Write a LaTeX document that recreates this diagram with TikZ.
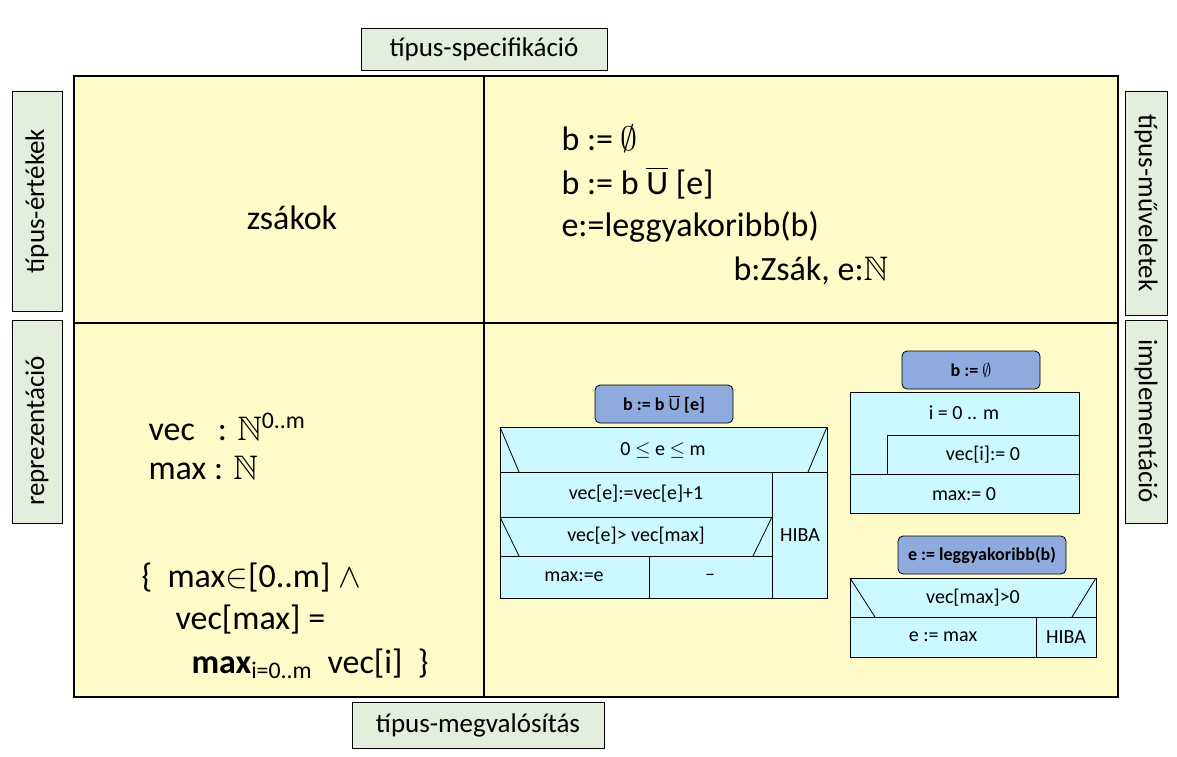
\RequirePackage{fix-cm}
\documentclass[tikz,border=0pt]{standalone}
\usepackage{anyfontsize}
\usepackage{amssymb}
\usepackage{fontspec}
\setmainfont{Carlito}
\definecolor{paneyellow}{HTML}{FFFBC9}
\definecolor{tagGreen}{HTML}{E3EEDC}
\definecolor{structCyan}{HTML}{CCF8FF}
\definecolor{headBlue}{HTML}{8FAADC}
\tikzset{
  tag/.style={draw=black,fill=tagGreen,line width=0.8pt},
  tagtext/.style={font=\fontsize{27}{31}\selectfont},
  big/.style={font=\fontsize{34}{38}\selectfont,anchor=west},
  sline/.style={draw=black,line width=0.8pt},
  stxt/.style={font=\fontsize{20}{23}\selectfont},
  head/.style={draw=black,fill=headBlue,rounded corners=5pt,line width=0.8pt},
  htxt/.style={font=\bfseries\fontsize{18}{21}\selectfont}
}
\begin{document}
\begin{tikzpicture}[x=1pt,y=-1pt]
\useasboundingbox (0,0) rectangle (1177,756);

% main table
\fill[paneyellow] (74,76) rectangle (1118,697);
\draw[line width=1.4pt] (74,76) rectangle (1118,697);
\draw[line width=1.4pt] (484,76)--(484,697);
\draw[line width=1.4pt] (74,323)--(1118,323);

% side tags
\draw[tag] (361,28) rectangle (607,70);
\node[tagtext] (spec) at (484,49) {típus-specifikáció};
\draw[tag] (352,702) rectangle (604,748);
\node[tagtext] (megv) at (478,725) {típus-megvalósítás};
\draw[tag] (12,91) rectangle (62,311);
\node[tagtext,rotate=90] (ertek) at (37,201) {típus-értékek};
\draw[tag] (12,320) rectangle (62,523);
\node[tagtext,rotate=90] (repr) at (37,431) {reprezentáció};
\draw[tag] (1125,91) rectangle (1167,315);
\node[tagtext,rotate=-90] (muv) at (1146,203) {típus-műveletek};
\draw[tag] (1125,320) rectangle (1167,523);
\node[tagtext,rotate=-90] (impl) at (1146,421) {implementáció};

% pane texts
\node[big,anchor=center] (zsak) at (292,218) {zsákok};
\node[big] (op1) at (558,139) {b := $\emptyset$};
\node[big] (op2) at (558,183) {b := b $\overline{\mathrm{U}}$ [e]};
\node[big] (op3) at (558,227) {e:=leggyakoribb(b)};
\node[big] (op4) at (730,271) {b:Zsák, e:$\mathbb{N}$};
\node[big] (rep1) at (145,427) {vec \ \ : $\mathbb{N}$\textsuperscript{0..m}};
\node[big] (rep2) at (145,468) {max : $\mathbb{N}$};
\node[big] (inv1) at (138,578) {\{ \ max$\in$[0..m] $\wedge$};
\node[big] (inv2) at (172,620) {vec[max] =};
\node[big] (inv3) at (188,664) {\textbf{max}\textsubscript{i=0..m} \ vec[i] \ \}};

% b := b U [e]
\draw[head] (595,385) rectangle (733,423);
\node[htxt] (h1) at (664,404) {b := b $\overline{\mathrm{U}}$ [e]};
\fill[structCyan] (500,427) rectangle (827,598);
\draw[sline] (500,427) rectangle (827,598);
\draw[sline] (500,472)--(827,472) (500,517)--(772,517) (500,556)--(772,556);
\draw[sline] (772,472)--(772,598) (649,556)--(649,598);
\draw[sline] (500,427)--(519,472) (827,427)--(808,472);
\draw[sline] (500,517)--(519,556) (772,517)--(753,556);
\node[stxt] (c1) at (663,450) {0 $\leq$ e $\leq$ m};
\node[stxt] (s1) at (636,494) {vec[e]:=vec[e]+1};
\node[stxt] (c2) at (636,536) {vec[e]> vec[max]};
\node[stxt] (s2) at (574,577) {max:=e};
\node[stxt] (s3) at (710,577) {--};
\node[stxt] (err1) at (800,535) {HIBA};

% b := empty
\draw[head] (902,351) rectangle (1040,389);
\node[htxt] (h2) at (971,370) {b := $\emptyset$};
\fill[structCyan] (850,392) rectangle (1079,513);
\draw[sline] (850,392) rectangle (1079,513);
\draw[sline] (850,474)--(1079,474);
\draw[sline] (887,474)--(887,435)--(1079,435);
\node[stxt] (l1) at (964,413) {i = 0 .. m};
\node[stxt] (l2) at (983,455) {vec[i]:= 0};
\node[stxt] (l3) at (964,494) {max:= 0};

% e := leggyakoribb(b)
\draw[head] (898,536) rectangle (1066,574);
\node[htxt] (h3) at (982,555) {e := leggyakoribb(b)};
\fill[structCyan] (850,578) rectangle (1096,657);
\draw[sline] (850,578) rectangle (1096,657);
\draw[sline] (850,617)--(1096,617) (1036,617)--(1036,657);
\draw[sline] (850,578)--(875,617) (1096,578)--(1072,617);
\node[stxt] (c3) at (973,598) {vec[max]>0};
\node[stxt] (s4) at (943,637) {e := max};
\node[stxt] (err2) at (1066,637) {HIBA};
\end{tikzpicture}
\end{document}
